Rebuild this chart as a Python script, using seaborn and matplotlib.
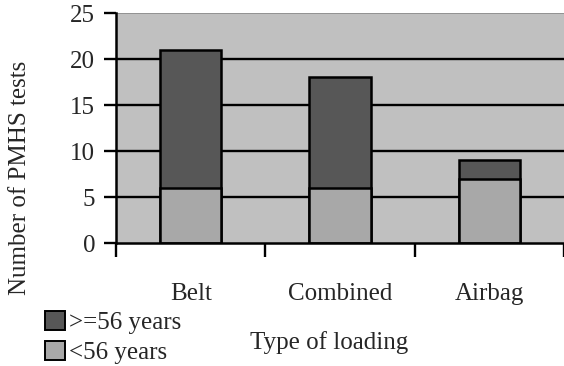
import matplotlib
matplotlib.use("Agg")
import matplotlib.pyplot as plt
import seaborn as sns
import pandas as pd
from matplotlib.patches import Patch

categories = ["Belt", "Combined", "Airbag"]
under_56 = [6, 6, 7]
over_56 = [15, 12, 2]
yticks = [0, 5, 10, 15, 20, 25]

sns.set_theme(style="white")
plt.rcParams['font.family'] = ['Liberation Serif', 'DejaVu Serif']

df = pd.DataFrame({"cat": categories, "low": under_56, "high": over_56})
df["total"] = df["low"] + df["high"]

fig = plt.figure(figsize=(5.64, 3.66), dpi=100)
ax = fig.add_axes([116/564, 123/366, 448/564, 230/366])
ax.set_facecolor("#c0c0c0")

dark = "#575757"
light = "#a8a8a8"
sns.barplot(data=df, x="cat", y="total", color=dark, width=0.41, edgecolor="black",
            linewidth=1.8, saturation=1, ax=ax, zorder=3)
sns.barplot(data=df, x="cat", y="low", color=light, width=0.41, edgecolor="black",
            linewidth=1.8, saturation=1, ax=ax, zorder=4)

ax.set_xlim(-0.5, 2.5)
ax.set_ylim(0, 25)
ax.set_yticks(yticks)
ax.set_yticklabels([str(v) for v in yticks], fontsize=18)
for v in yticks[1:-1]:
    ax.axhline(v, color="black", lw=1.7, zorder=1)
ax.axhline(25, color="#8a8a8a", lw=1.2, zorder=1)

ax.set_xticks(range(len(categories)))
ax.set_xticklabels(categories, fontsize=18)
ax.set_xticks([-0.5, 0.5, 1.5, 2.5], minor=True)
ax.tick_params(axis="x", which="major", length=0, pad=29)
ax.tick_params(axis="x", which="minor", length=10, width=1.7, color="black", direction="out")
ax.tick_params(axis="y", which="major", length=9, width=1.7, color="black", direction="out", pad=6)
ax.tick_params(axis="y", left=True)
ax.tick_params(axis="x", which="minor", bottom=True)

for s in ["top", "right"]:
    ax.spines[s].set_visible(False)
for s in ["left", "bottom"]:
    ax.spines[s].set_color("black")
    ax.spines[s].set_linewidth(1.8)
    ax.spines[s].set_zorder(5)

ax.set_xlabel("")
ax.set_ylabel("")
fig.text(20/564, 1 - 178/366, "Number of PMHS tests", rotation=90, ha="center", va="center", fontsize=18)
fig.text(329/564, 1 - 343/366, "Type of loading", ha="center", va="center", fontsize=18)

handles = [Patch(facecolor=dark, edgecolor="black", linewidth=1.4, label=">=56 years"),
           Patch(facecolor=light, edgecolor="black", linewidth=1.4, label="<56 years")]
fig.legend(handles=handles, loc="upper left", bbox_to_anchor=(45/564, 1 - 311/366),
           frameon=False, fontsize=18, handlelength=0.8, handleheight=0.8,
           handletextpad=0.15, labelspacing=0.25, borderpad=0, borderaxespad=0)

fig.savefig("out.png", dpi=100)
